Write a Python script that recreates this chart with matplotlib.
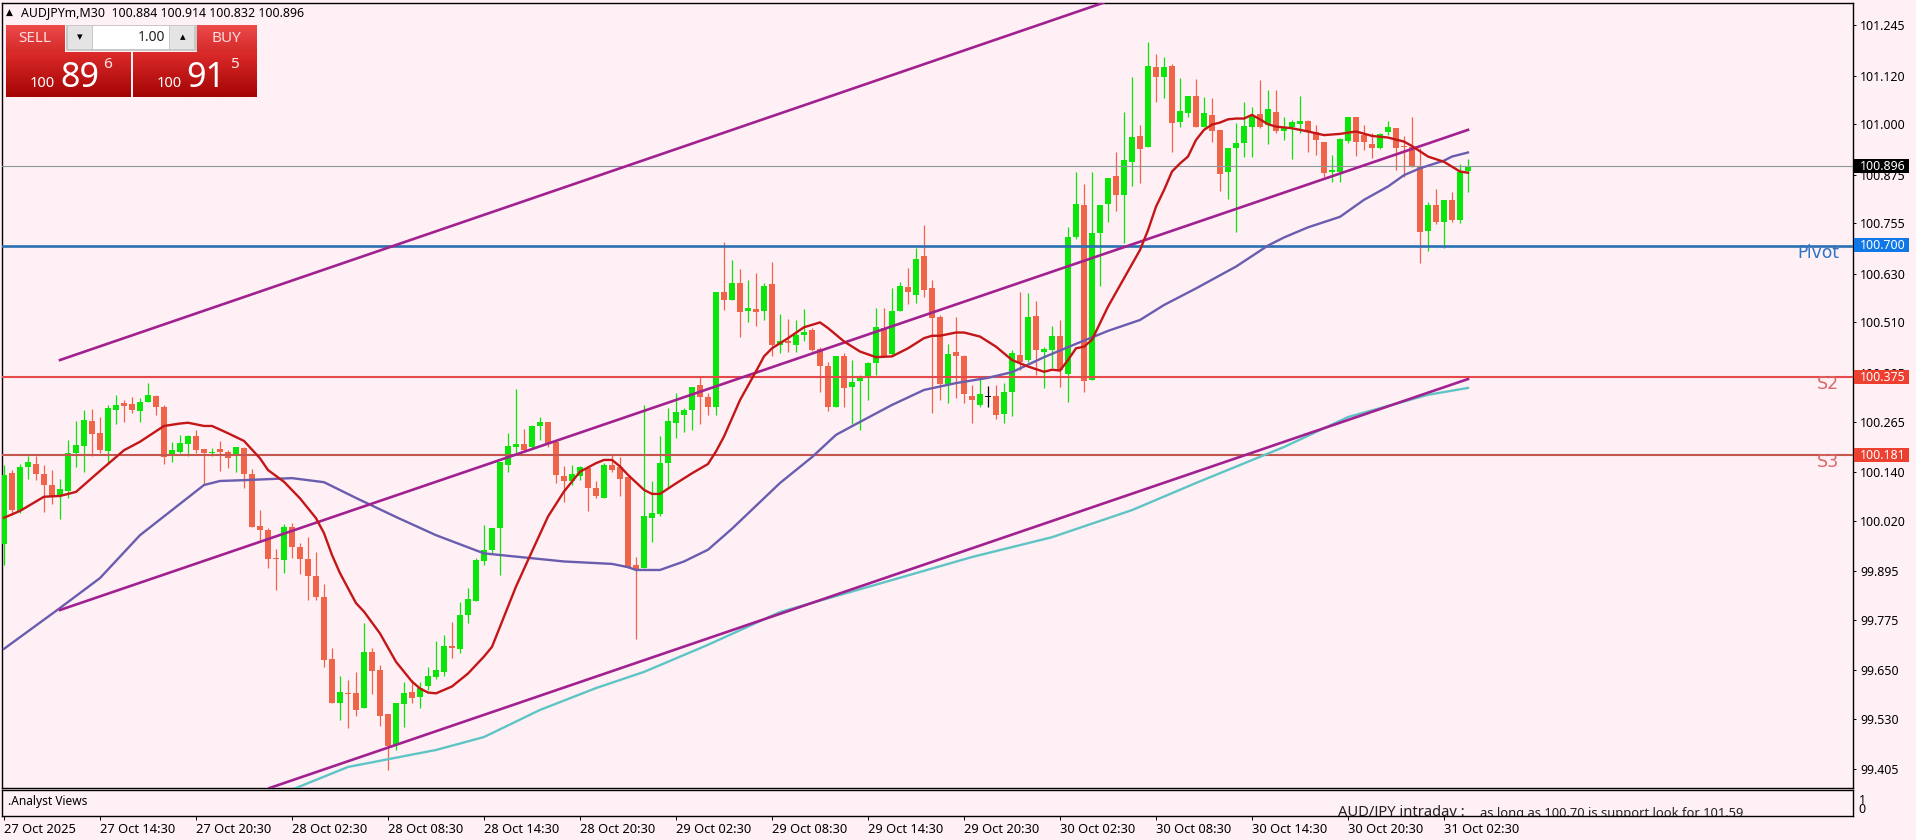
import matplotlib
matplotlib.use('Agg')
import matplotlib.pyplot as plt
import numpy as np
from matplotlib.patches import Rectangle

plt.rcParams['font.family'] = ['Noto Sans', 'DejaVu Sans']

# AUDJPYm M30 candles
opens = [99.963, 100.137, 100.044, 100.153, 100.161, 100.135, 100.108, 100.081, 100.093, 100.186,
         100.205, 100.266, 100.237, 100.192, 100.293, 100.311, 100.309, 100.292, 100.314, 100.329,
         100.300, 100.184, 100.190, 100.209, 100.229, 100.198, 100.187, 100.198, 100.190, 100.180,
         100.200, 100.135, 100.006, 99.998, 99.928, 99.923, 100.003, 99.956, 99.924, 99.883,
         99.832, 99.678, 99.568, 99.594, 99.595, 99.558, 99.695, 99.651, 99.542, 99.465,
         99.566, 99.596, 99.585, 99.611, 99.634, 99.645, 99.709, 99.702, 99.787, 99.822,
         99.921, 99.948, 100.001, 100.158, 100.203, 100.210, 100.201, 100.253, 100.264, 100.215,
         100.131, 100.117, 100.131, 100.150, 100.100, 100.077, 100.157, 100.152, 100.129, 99.911,
         99.904, 100.026, 100.037, 100.162, 100.261, 100.281, 100.294, 100.355, 100.325, 100.300,
         100.585, 100.566, 100.607, 100.537, 100.543, 100.537, 100.605, 100.454, 100.464, 100.454,
         100.479, 100.492, 100.444, 100.403, 100.302, 100.428, 100.351, 100.364, 100.378, 100.409,
         100.496, 100.432, 100.537, 100.597, 100.578, 100.674, 100.595, 100.523, 100.358, 100.436,
         100.426, 100.329, 100.306, 100.326, 100.327, 100.284, 100.337, 100.430, 100.416, 100.526,
         100.437, 100.442, 100.477, 100.383, 100.722, 100.800, 100.368, 100.732, 100.802, 100.872,
         100.825, 100.907, 100.971, 100.943, 101.141, 101.117, 101.144, 101.006, 101.028, 101.070,
         100.994, 101.023, 100.986, 100.883, 100.940, 100.953, 100.994, 101.024, 100.998, 101.031,
         100.982, 100.994, 101.000, 101.009, 100.980, 100.957, 100.881, 100.883, 100.958, 101.017,
         100.973, 100.951, 100.940, 100.980, 100.990, 100.946, 100.944, 100.895, 100.736, 100.800,
         100.759, 100.813, 100.763, 100.884]
highs = [100.157, 100.145, 100.159, 100.180, 100.180, 100.157, 100.145, 100.124, 100.219, 100.266,
         100.293, 100.297, 100.277, 100.306, 100.330, 100.318, 100.326, 100.322, 100.359, 100.330,
         100.306, 100.215, 100.231, 100.231, 100.244, 100.198, 100.200, 100.217, 100.194, 100.201,
         100.203, 100.147, 100.046, 100.001, 99.951, 100.012, 100.015, 99.964, 99.980, 99.943,
         99.863, 99.704, 99.637, 99.626, 99.645, 99.766, 99.704, 99.663, 99.542, 99.568,
         99.622, 99.626, 99.622, 99.659, 99.723, 99.737, 99.770, 99.818, 99.853, 99.927,
         100.009, 100.001, 100.164, 100.236, 100.345, 100.247, 100.257, 100.277, 100.264, 100.220,
         100.154, 100.158, 100.154, 100.154, 100.119, 100.162, 100.183, 100.178, 100.129, 99.931,
         100.306, 100.117, 100.228, 100.298, 100.335, 100.298, 100.351, 100.376, 100.335, 100.586,
         100.710, 100.665, 100.641, 100.615, 100.633, 100.607, 100.660, 100.531, 100.518, 100.516,
         100.543, 100.496, 100.450, 100.413, 100.427, 100.435, 100.416, 100.380, 100.411, 100.545,
         100.545, 100.595, 100.611, 100.644, 100.693, 100.751, 100.615, 100.529, 100.457, 100.523,
         100.430, 100.356, 100.372, 100.353, 100.356, 100.360, 100.442, 100.586, 100.582, 100.564,
         100.450, 100.500, 100.516, 100.747, 100.883, 100.852, 100.883, 100.800, 100.866, 100.932,
         101.031, 101.116, 100.998, 101.202, 101.174, 101.165, 101.150, 101.113, 101.070, 101.111,
         101.068, 101.064, 100.986, 100.940, 101.002, 101.056, 101.042, 101.109, 101.085, 101.085,
         101.017, 101.010, 101.070, 101.010, 100.998, 100.957, 100.924, 100.965, 101.017, 101.017,
         100.998, 100.977, 100.977, 101.009, 100.990, 100.971, 101.017, 100.940, 100.808, 100.841,
         100.813, 100.833, 100.902, 100.914]
lows = [99.910, 100.035, 100.038, 100.124, 100.120, 100.042, 100.061, 100.025, 100.076, 100.153,
        100.139, 100.180, 100.186, 100.161, 100.258, 100.264, 100.285, 100.263, 100.314, 100.281,
        100.159, 100.164, 100.186, 100.180, 100.186, 100.108, 100.180, 100.142, 100.149, 100.139,
        100.101, 100.003, 99.968, 99.902, 99.848, 99.891, 99.927, 99.888, 99.824, 99.824,
        99.657, 99.568, 99.527, 99.508, 99.537, 99.558, 99.591, 99.512, 99.404, 99.453,
        99.509, 99.568, 99.556, 99.601, 99.628, 99.636, 99.680, 99.692, 99.768, 99.822,
        99.911, 99.939, 99.886, 100.141, 100.187, 100.191, 100.199, 100.220, 100.201, 100.112,
        100.067, 100.108, 100.121, 100.045, 100.075, 100.075, 100.141, 100.082, 99.902, 99.728,
        99.902, 99.966, 100.032, 100.104, 100.224, 100.240, 100.244, 100.259, 100.280, 100.281,
        100.541, 100.566, 100.475, 100.512, 100.500, 100.516, 100.426, 100.435, 100.438, 100.438,
        100.463, 100.440, 100.339, 100.291, 100.300, 100.300, 100.259, 100.244, 100.317, 100.380,
        100.426, 100.430, 100.537, 100.556, 100.557, 100.572, 100.286, 100.318, 100.310, 100.323,
        100.310, 100.261, 100.300, 100.300, 100.271, 100.262, 100.279, 100.393, 100.413, 100.380,
        100.347, 100.397, 100.351, 100.312, 100.716, 100.339, 100.368, 100.600, 100.757, 100.786,
        100.707, 100.846, 100.854, 100.943, 101.056, 101.064, 100.932, 100.994, 101.019, 100.992,
        100.992, 100.957, 100.836, 100.814, 100.734, 100.920, 100.920, 100.990, 100.951, 100.977,
        100.961, 100.913, 100.977, 100.932, 100.924, 100.870, 100.858, 100.858, 100.954, 100.921,
        100.936, 100.916, 100.938, 100.973, 100.887, 100.870, 100.895, 100.656, 100.687, 100.753,
        100.693, 100.757, 100.755, 100.832]
closes = [100.134, 100.046, 100.153, 100.164, 100.135, 100.109, 100.081, 100.098, 100.186, 100.208,
          100.268, 100.234, 100.194, 100.299, 100.307, 100.304, 100.293, 100.314, 100.330, 100.301,
          100.178, 100.194, 100.213, 100.229, 100.194, 100.187, 100.189, 100.189, 100.174, 100.201,
          100.135, 100.005, 99.996, 99.925, 99.924, 100.005, 99.956, 99.925, 99.884, 99.830,
          99.675, 99.570, 99.596, 99.591, 99.552, 99.694, 99.647, 99.538, 99.464, 99.568,
          99.593, 99.582, 99.605, 99.637, 99.651, 99.710, 99.704, 99.787, 99.826, 99.923,
          99.948, 100.001, 100.164, 100.205, 100.210, 100.195, 100.254, 100.264, 100.211, 100.133,
          100.117, 100.136, 100.152, 100.100, 100.081, 100.158, 100.145, 100.123, 99.902, 99.898,
          100.032, 100.038, 100.162, 100.267, 100.288, 100.294, 100.350, 100.325, 100.300, 100.584,
          100.566, 100.607, 100.535, 100.545, 100.535, 100.600, 100.454, 100.463, 100.459, 100.478,
          100.487, 100.442, 100.403, 100.300, 100.427, 100.349, 100.362, 100.376, 100.409, 100.498,
          100.428, 100.538, 100.600, 100.584, 100.666, 100.590, 100.520, 100.358, 100.431, 100.426,
          100.332, 100.318, 100.332, 100.326, 100.280, 100.337, 100.435, 100.411, 100.524, 100.442,
          100.444, 100.477, 100.393, 100.722, 100.803, 100.364, 100.732, 100.800, 100.866, 100.825,
          100.911, 100.969, 100.938, 101.144, 101.116, 101.141, 101.004, 101.033, 101.070, 100.994,
          101.027, 100.982, 100.876, 100.940, 100.953, 100.996, 101.023, 100.994, 101.038, 100.982,
          100.990, 101.005, 101.009, 100.983, 100.961, 100.879, 100.887, 100.963, 101.017, 100.957,
          100.957, 100.942, 100.976, 100.994, 100.940, 100.943, 100.897, 100.734, 100.800, 100.757,
          100.813, 100.763, 100.883, 100.896]

# moving averages: bar index and price at the bends
red_ma_bars = [0, 2, 5, 7, 9, 12, 15, 17, 20, 22, 23, 25, 26, 28, 30, 32, 33, 35, 37, 39, 40, 41, 42,
               44, 45, 47, 49, 51, 52, 53, 54, 56, 58, 60, 61, 64, 66, 68, 70, 72, 74, 75, 76, 77, 78,
               80, 81, 82, 84, 86, 88, 89, 90, 92, 94, 95, 96, 98, 100, 102, 103, 105, 107, 109, 111,
               113, 115, 116, 117, 119, 120, 122, 124, 126, 128, 130, 131, 132, 133, 134, 135, 136,
               138, 140, 142, 143, 144, 145, 146, 147, 148, 149, 150, 151, 152, 153, 154, 155, 156,
               157, 158, 159, 161, 163, 165, 167, 169, 171, 173, 175, 176, 178, 180, 182, 183]
red_ma = [100.027, 100.044, 100.079, 100.081, 100.091, 100.143, 100.194, 100.215, 100.254, 100.260,
          100.262, 100.254, 100.254, 100.236, 100.217, 100.174, 100.145, 100.116, 100.075, 100.026,
          99.989, 99.935, 99.890, 99.816, 99.795, 99.741, 99.671, 99.622, 99.605, 99.595, 99.593,
          99.610, 99.642, 99.684, 99.708, 99.857, 99.944, 100.030, 100.092, 100.141, 100.162,
          100.170, 100.170, 100.154, 100.133, 100.096, 100.086, 100.086, 100.112, 100.137, 100.160,
          100.191, 100.228, 100.318, 100.389, 100.426, 100.446, 100.471, 100.498, 100.510, 100.496,
          100.463, 100.438, 100.424, 100.426, 100.446, 100.471, 100.477, 100.477, 100.485, 100.485,
          100.475, 100.450, 100.417, 100.401, 100.388, 100.393, 100.391, 100.417, 100.446, 100.450,
          100.467, 100.549, 100.619, 100.689, 100.738, 100.796, 100.837, 100.883, 100.903, 100.920,
          100.961, 100.986, 100.999, 101.004, 101.012, 101.014, 101.014, 101.023, 101.012, 101.000,
          100.994, 100.990, 100.982, 100.973, 100.976, 100.982, 100.971, 100.967, 100.957, 100.946,
          100.920, 100.907, 100.883, 100.880]

blue_ma_bars = [0, 7, 12, 17, 25, 27, 30, 36, 40, 44, 49, 54, 60, 62, 66, 70, 76, 78, 79, 82, 85, 88,
                91, 97, 101, 104, 107, 111, 115, 119, 123, 126, 130, 134, 138, 142, 145, 149, 154,
                158, 160, 163, 167, 170, 173, 175, 177, 180, 181, 183]
blue_ma = [99.703, 99.804, 99.878, 99.984, 100.108, 100.118, 100.120, 100.125, 100.115, 100.076,
           100.029, 99.984, 99.939, 99.935, 99.927, 99.919, 99.913, 99.905, 99.898, 99.898, 99.919,
           99.948, 100.000, 100.113, 100.177, 100.232, 100.264, 100.306, 100.343, 100.360, 100.373,
           100.387, 100.424, 100.457, 100.489, 100.516, 100.553, 100.594, 100.648, 100.700, 100.720,
           100.745, 100.771, 100.813, 100.846, 100.874, 100.891, 100.910, 100.920, 100.930]

teal_ma_bars = [36, 43, 54, 60, 67, 74, 80, 88, 97, 108, 121, 131, 141, 149, 160, 168, 178, 183]
teal_ma = [99.355, 99.411, 99.453, 99.485, 99.552, 99.606, 99.646, 99.713, 99.794, 99.856, 99.930,
           99.979, 100.046, 100.113, 100.202, 100.276, 100.331, 100.348]

# channel lines: bars and prices at both ends
channel_top_bars = [7, 137.4]
channel_top = [100.417, 101.300]
channel_mid_bars = [7, 183]
channel_mid = [99.799, 100.986]
channel_low_bars = [33.2, 183]
channel_low = [99.359, 100.370]

price_ticks = [101.245, 101.120, 101.000, 100.875, 100.755, 100.630, 100.510, 100.385, 100.265,
               100.140, 100.020, 99.895, 99.775, 99.650, 99.530, 99.405]
time_tick_bars = list(range(0, 181, 12))
time_labels = ['27 Oct 2025', '27 Oct 14:30', '27 Oct 20:30', '28 Oct 02:30', '28 Oct 08:30',
               '28 Oct 14:30', '28 Oct 20:30', '29 Oct 02:30', '29 Oct 08:30', '29 Oct 14:30',
               '29 Oct 20:30', '30 Oct 02:30', '30 Oct 08:30', '30 Oct 14:30', '30 Oct 20:30',
               '31 Oct 02:30']

last_price = 100.896
pivot = 100.700
s2 = 100.375
s3 = 100.181

BG = '#fff0f5'
GREEN = '#0ae60a'
RED = '#f0654a'
TICK_PT = 8.9
TIME_PT = 9.3

W, H = 1916, 840
fig = plt.figure(figsize=(W / 100, H / 100), dpi=100, facecolor=BG)


def panel(x0, y0, x1, y1):
    # axes from pixel box, y measured from the top
    return fig.add_axes([x0 / W, 1 - y1 / H, (x1 - x0) / W, (y1 - y0) / H], facecolor=BG)


ax = panel(2, 3, 1853, 788)
sub = panel(2, 790, 1853, 816)
ui = fig.add_axes([0, 0, 1, 1], facecolor='none')
ui.set_xlim(0, W)
ui.set_ylim(H, 0)
ui.axis('off')
ui.set_autoscale_on(False)

x_range = (-0.25, 231.125)
ax.set_xlim(*x_range)
ax.set_ylim(99.359, 101.2996)
sub.set_xlim(*x_range)

# candles
bars = np.arange(len(opens))
o = np.array(opens)
c = np.array(closes)
colors = [GREEN if cl > op else (RED if cl < op else 'black') for op, cl in zip(o, c)]
ax.vlines(bars, lows, highs, colors=colors, linewidth=0.9, zorder=2)
body_w = [0.7 if col != 'black' else 0.8 for col in colors]
heights = np.maximum(np.abs(c - o), 0.0022)
ax.bar(bars, heights, bottom=np.minimum(o, c), width=body_w, color=colors, linewidth=0, zorder=3)

# levels
ax.axhline(last_price, color='#8b9a9a', linewidth=0.8, zorder=4)
ax.axhline(pivot, color='#2b70b2', linewidth=1.9, zorder=4)
ax.axhline(s2, color='#e44a4a', linewidth=1.5, zorder=4)
ax.axhline(s3, color='#c4584e', linewidth=1.5, zorder=4)

# indicators
ax.plot(teal_ma_bars, teal_ma, color='#5fc4c4', linewidth=1.7, zorder=5)
ax.plot(blue_ma_bars, blue_ma, color='#6a5cae', linewidth=1.7, zorder=5)
ax.plot(channel_top_bars, channel_top, color='#a0218f', linewidth=1.9, zorder=6)
ax.plot(channel_mid_bars, channel_mid, color='#a0218f', linewidth=1.9, zorder=6)
ax.plot(channel_low_bars, channel_low, color='#a0218f', linewidth=1.9, zorder=6)
ax.plot(red_ma_bars, red_ma, color='#c41616', linewidth=1.7, zorder=7)

# axes furniture
for a in (ax, sub):
    for s in a.spines.values():
        s.set_linewidth(1.0)
        s.set_color('black')
ax.set_xticks([])
ax.yaxis.tick_right()
ax.set_yticks(price_ticks)
ax.set_yticklabels(['%.3f' % p for p in price_ticks])
ax.tick_params(axis='y', length=2.5, width=0.7, pad=2.5, labelsize=TICK_PT)

sub.yaxis.tick_right()
sub.set_yticks([0, 1])
sub.set_yticklabels(['0', '1'])
sub.tick_params(axis='y', length=0, pad=4, labelsize=TICK_PT)
sub.set_ylim(-0.889, 2.0)
sub.set_xticks(time_tick_bars)
sub.set_xticklabels(time_labels, ha='left')
sub.tick_params(axis='x', length=3, width=0.7, pad=2, labelsize=TIME_PT)

# price tags on the scale
tag_trans = ax.get_yaxis_transform()
for price, col, txt_col in [(last_price, 'black', 'white'), (pivot, '#0f78e6', 'white'),
                            (s2, '#ee4030', 'white'), (s3, '#ee4030', 'white')]:
    ax.add_patch(Rectangle((1.0008, price - 0.017), 0.0297, 0.0345, transform=tag_trans,
                           facecolor=col, edgecolor='none', clip_on=False, zorder=8))
    ax.text(1.0035, price, '%.3f' % price, transform=tag_trans, color=txt_col, fontsize=TICK_PT,
            va='center', ha='left', clip_on=False, zorder=9)

# level names
ui.text(1839, 253, 'Pivot', color='#2f74c4', fontsize=12.3, family='DejaVu Sans', ha='right', va='center')
ui.text(1839, 384, 'S2', color='#d96a6a', fontsize=12.6, family='DejaVu Sans', ha='right', va='center')
ui.text(1839, 462, 'S3', color='#d96a6a', fontsize=12.6, family='DejaVu Sans', ha='right', va='center')

# header and sub window texts
ui.text(6, 12.5, '\u25b2', color='black', fontsize=6.5, family='DejaVu Sans', ha='left', va='center')
ui.text(21, 12.5, 'AUDJPYm,M30  100.884 100.914 100.832 100.896', color='black',
        fontsize=TICK_PT, ha='left', va='center')
ui.text(8, 802, '.Analyst Views', color='black', fontsize=8.6, ha='left', va='center')
t1 = ui.text(1338, 816.5, 'AUD/JPY intraday :', color='#222222', fontsize=10.6, fontweight='bold',
             ha='left', va='baseline')
t2 = ui.text(1480, 816.5, 'as long as 100.70 is support look for 101.59', color='#222222',
             fontsize=TIME_PT, ha='left', va='baseline')
for t in (t1, t2):
    t.set_clip_box(sub.bbox)
    t.set_clip_on(True)


# trade panel
def red_box(x0, y0, x1, y1, top, bottom):
    ramp = np.linspace(0, 1, 32).reshape(-1, 1)
    t_rgb = np.array(matplotlib.colors.to_rgb(top))
    b_rgb = np.array(matplotlib.colors.to_rgb(bottom))
    img = (t_rgb * (1 - ramp) + b_rgb * ramp).reshape(32, 1, 3)
    ui.imshow(img, extent=(x0, x1, y1, y0), aspect='auto', interpolation='bilinear', zorder=2)


red_box(6.5, 25, 65, 52, '#ee4a4a', '#d42a2a')
red_box(197.5, 25, 257, 52, '#ee4a4a', '#d42a2a')
red_box(6.5, 52, 131, 97, '#dc2a2a', '#a40404')
red_box(133.5, 52, 257, 97, '#dc2a2a', '#a40404')

ui.add_patch(Rectangle((66.5, 25), 130.5, 26, facecolor='#c8c8c8', edgecolor='none', zorder=3))
ui.add_patch(Rectangle((93, 26), 76.5, 23, facecolor='white', edgecolor='none', zorder=4))
ui.add_patch(Rectangle((68, 26), 24, 23, facecolor='#e4e4e4', edgecolor='none', zorder=4))
ui.add_patch(Rectangle((170.5, 26), 24, 23, facecolor='#e4e4e4', edgecolor='none', zorder=4))
ui.text(80, 37.5, '\u25be', color='black', fontsize=8, family='DejaVu Sans', ha='center', va='center', zorder=5)
ui.text(182.5, 37, '\u25b4', color='black', fontsize=8, family='DejaVu Sans', ha='center', va='center', zorder=5)
ui.text(165.5, 37.5, '1.00', color='#222222', fontsize=10, ha='right', va='center', zorder=5)
BTN = '#ffdede'
ui.text(35, 38, 'SELL', color=BTN, fontsize=11, ha='center', va='center', zorder=5)
ui.text(226.5, 38, 'BUY', color=BTN, fontsize=11, ha='center', va='center', zorder=5)
for x_small, x_big, x_sup, big, sup in [(42.5, 80, 108, '89', '6'), (169, 206, 235.5, '91', '5')]:
    ui.text(x_small, 87, '100', color='white', fontsize=10.5, fontweight='bold', ha='center', va='baseline', zorder=5)
    ui.text(x_big, 87, big, color='white', fontsize=24.5, ha='center', va='baseline', zorder=5)
    ui.text(x_sup, 65, sup, color='#ffe8e8', fontsize=11, fontweight='bold', ha='center', va='center', zorder=5)

fig.savefig('out.png', dpi=100, facecolor=BG)
